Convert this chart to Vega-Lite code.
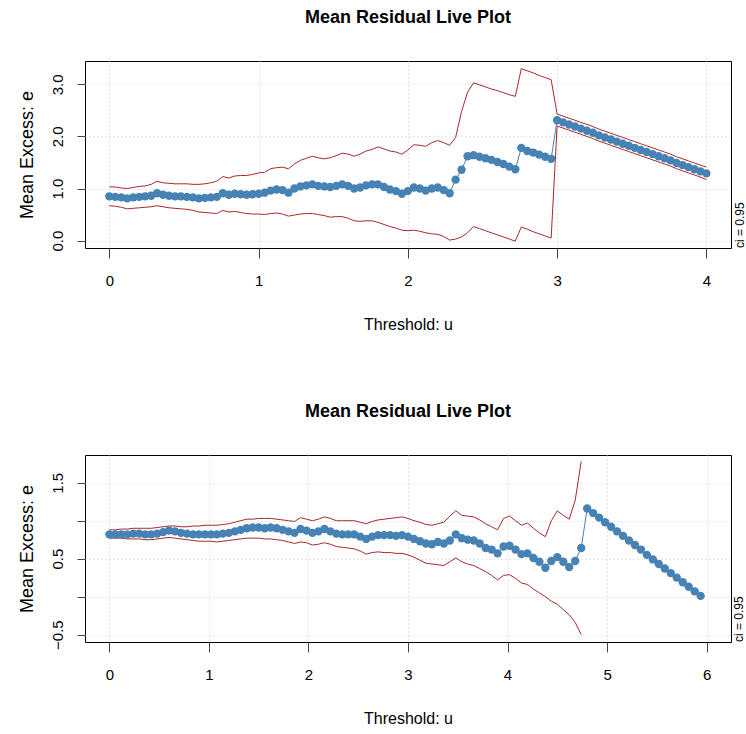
{
  "$schema": "https://vega.github.io/schema/vega-lite/v6.json",
  "padding": {"left": 17, "top": 8, "right": 2, "bottom": 2},
  "spacing": 69,
  "config": {
    "font": "Liberation Sans",
    "view": {"stroke": "black", "strokeWidth": 1},
    "title": {"fontSize": 18, "fontWeight": "bold", "color": "black", "offset": 34, "anchor": "middle", "font": "Liberation Sans"},
    "axis": {"labelColor": "black", "titleColor": "black", "titleFontWeight": "normal", "tickColor": "#444444", "domain": false, "gridColor": "#cfcfcf", "gridDash": [1, 3], "labelFlush": false, "labelOverlap": false, "labelFont": "Liberation Sans", "titleFont": "Liberation Sans"},
    "axisX": {"labelFontSize": 15, "labelPadding": 15, "tickSize": 10, "titleFontSize": 16, "titlePadding": 28},
    "axisY": {"labelFontSize": 15, "labelAngle": -90, "labelAlign": "center", "labelBaseline": "bottom", "labelPadding": 12, "tickSize": 8, "titleFontSize": 18, "titlePadding": 14}
  },
  "datasets": {
    "top": [
      {"u":0,"e":0.85,"lo":0.67,"hi":1.03},{"u":0.04,"e":0.84,"lo":0.66,"hi":1.03},{"u":0.08,"e":0.83,"lo":0.64,"hi":1.01},{"u":0.12,"e":0.81,"lo":0.61,"hi":1.0},{"u":0.16,"e":0.83,"lo":0.62,"hi":1.02},{"u":0.2,"e":0.84,"lo":0.63,"hi":1.04},{"u":0.24,"e":0.85,"lo":0.64,"hi":1.05},{"u":0.28,"e":0.86,"lo":0.65,"hi":1.08},{"u":0.32,"e":0.91,"lo":0.67,"hi":1.14},{"u":0.36,"e":0.88,"lo":0.65,"hi":1.11},
      {"u":0.4,"e":0.86,"lo":0.63,"hi":1.1},{"u":0.44,"e":0.85,"lo":0.62,"hi":1.09},{"u":0.48,"e":0.85,"lo":0.61,"hi":1.09},{"u":0.52,"e":0.84,"lo":0.6,"hi":1.09},{"u":0.56,"e":0.83,"lo":0.58,"hi":1.08},{"u":0.6,"e":0.81,"lo":0.55,"hi":1.08},{"u":0.64,"e":0.82,"lo":0.54,"hi":1.09},{"u":0.68,"e":0.83,"lo":0.53,"hi":1.11},{"u":0.72,"e":0.84,"lo":0.52,"hi":1.14},{"u":0.76,"e":0.91,"lo":0.58,"hi":1.23},
      {"u":0.8,"e":0.88,"lo":0.55,"hi":1.2},{"u":0.84,"e":0.9,"lo":0.56,"hi":1.24},{"u":0.88,"e":0.89,"lo":0.54,"hi":1.25},{"u":0.92,"e":0.88,"lo":0.52,"hi":1.25},{"u":0.96,"e":0.89,"lo":0.51,"hi":1.27},{"u":1.0,"e":0.9,"lo":0.51,"hi":1.3},{"u":1.04,"e":0.92,"lo":0.5,"hi":1.31},{"u":1.08,"e":0.96,"lo":0.52,"hi":1.38},{"u":1.12,"e":0.98,"lo":0.53,"hi":1.4},{"u":1.16,"e":0.97,"lo":0.51,"hi":1.41},
      {"u":1.2,"e":0.92,"lo":0.47,"hi":1.38},{"u":1.24,"e":1.0,"lo":0.49,"hi":1.47},{"u":1.28,"e":1.04,"lo":0.51,"hi":1.54},{"u":1.32,"e":1.06,"lo":0.52,"hi":1.58},{"u":1.36,"e":1.08,"lo":0.52,"hi":1.62},{"u":1.4,"e":1.05,"lo":0.5,"hi":1.59},{"u":1.44,"e":1.04,"lo":0.48,"hi":1.57},{"u":1.48,"e":1.03,"lo":0.45,"hi":1.59},{"u":1.52,"e":1.05,"lo":0.46,"hi":1.63},{"u":1.56,"e":1.08,"lo":0.46,"hi":1.68},
      {"u":1.6,"e":1.05,"lo":0.43,"hi":1.66},{"u":1.64,"e":1.0,"lo":0.38,"hi":1.62},{"u":1.68,"e":1.02,"lo":0.37,"hi":1.66},{"u":1.72,"e":1.06,"lo":0.38,"hi":1.72},{"u":1.76,"e":1.08,"lo":0.38,"hi":1.75},{"u":1.8,"e":1.08,"lo":0.35,"hi":1.8},{"u":1.84,"e":1.03,"lo":0.31,"hi":1.76},{"u":1.88,"e":0.98,"lo":0.27,"hi":1.72},{"u":1.92,"e":0.95,"lo":0.24,"hi":1.7},{"u":1.96,"e":0.9,"lo":0.2,"hi":1.66},
      {"u":2.0,"e":0.95,"lo":0.19,"hi":1.74},{"u":2.04,"e":1.02,"lo":0.2,"hi":1.84},{"u":2.08,"e":1.0,"lo":0.18,"hi":1.83},{"u":2.12,"e":0.96,"lo":0.15,"hi":1.81},{"u":2.16,"e":1.0,"lo":0.13,"hi":1.88},{"u":2.2,"e":1.02,"lo":0.12,"hi":1.92},{"u":2.24,"e":0.97,"lo":0.08,"hi":1.88},{"u":2.28,"e":0.91,"lo":0.01,"hi":1.83},{"u":2.32,"e":1.17,"lo":0.03,"hi":1.98},{"u":2.36,"e":1.36,"lo":0.07,"hi":2.48},
      {"u":2.4,"e":1.62,"lo":0.15,"hi":2.85},{"u":2.44,"e":1.64,"lo":0.27,"hi":3.03},{"u":2.48,"e":1.61,"lo":0.23,"hi":2.99},{"u":2.52,"e":1.58,"lo":0.19,"hi":2.95},{"u":2.56,"e":1.55,"lo":0.15,"hi":2.91},{"u":2.6,"e":1.51,"lo":0.11,"hi":2.88},{"u":2.64,"e":1.47,"lo":0.07,"hi":2.84},{"u":2.68,"e":1.42,"lo":0.03,"hi":2.8},{"u":2.72,"e":1.37,"lo":-0.01,"hi":2.77},{"u":2.76,"e":1.78,"lo":0.26,"hi":3.3},
      {"u":2.8,"e":1.72,"lo":0.22,"hi":3.26},{"u":2.84,"e":1.69,"lo":0.17,"hi":3.22},{"u":2.88,"e":1.65,"lo":0.13,"hi":3.17},{"u":2.92,"e":1.61,"lo":0.09,"hi":3.13},{"u":2.96,"e":1.57,"lo":0.05,"hi":3.09},{"u":3.0,"e":2.31,"lo":2.2,"hi":2.43},{"u":3.04,"e":2.27,"lo":2.16,"hi":2.39},{"u":3.08,"e":2.23,"lo":2.12,"hi":2.35},{"u":3.12,"e":2.19,"lo":2.08,"hi":2.31},{"u":3.16,"e":2.15,"lo":2.04,"hi":2.27},
      {"u":3.2,"e":2.11,"lo":2.0,"hi":2.23},{"u":3.24,"e":2.07,"lo":1.96,"hi":2.19},{"u":3.28,"e":2.02,"lo":1.91,"hi":2.14},{"u":3.32,"e":1.98,"lo":1.87,"hi":2.1},{"u":3.36,"e":1.94,"lo":1.83,"hi":2.06},{"u":3.4,"e":1.9,"lo":1.79,"hi":2.02},{"u":3.44,"e":1.86,"lo":1.75,"hi":1.98},{"u":3.48,"e":1.82,"lo":1.71,"hi":1.94},{"u":3.52,"e":1.78,"lo":1.67,"hi":1.9},{"u":3.56,"e":1.74,"lo":1.63,"hi":1.86},
      {"u":3.6,"e":1.7,"lo":1.59,"hi":1.82},{"u":3.64,"e":1.66,"lo":1.55,"hi":1.78},{"u":3.68,"e":1.62,"lo":1.51,"hi":1.74},{"u":3.72,"e":1.58,"lo":1.47,"hi":1.7},{"u":3.76,"e":1.54,"lo":1.43,"hi":1.66},{"u":3.8,"e":1.49,"lo":1.38,"hi":1.61},{"u":3.84,"e":1.45,"lo":1.34,"hi":1.57},{"u":3.88,"e":1.41,"lo":1.3,"hi":1.53},{"u":3.92,"e":1.37,"lo":1.26,"hi":1.49},{"u":3.96,"e":1.33,"lo":1.22,"hi":1.45},
      {"u":4.0,"e":1.29,"lo":1.17,"hi":1.41}
    ],
    "bottom": [
      {"u":0,"e":0.82,"lo":0.77,"hi":0.88},{"u":0.06,"e":0.82,"lo":0.77,"hi":0.88},{"u":0.12,"e":0.82,"lo":0.77,"hi":0.89},{"u":0.18,"e":0.82,"lo":0.76,"hi":0.89},{"u":0.24,"e":0.83,"lo":0.76,"hi":0.9},{"u":0.3,"e":0.83,"lo":0.76,"hi":0.9},{"u":0.36,"e":0.82,"lo":0.75,"hi":0.9},{"u":0.42,"e":0.82,"lo":0.75,"hi":0.9},{"u":0.48,"e":0.83,"lo":0.76,"hi":0.91},{"u":0.54,"e":0.85,"lo":0.77,"hi":0.92},
      {"u":0.6,"e":0.87,"lo":0.78,"hi":0.93},{"u":0.66,"e":0.86,"lo":0.77,"hi":0.93},{"u":0.72,"e":0.84,"lo":0.76,"hi":0.92},{"u":0.78,"e":0.83,"lo":0.75,"hi":0.92},{"u":0.84,"e":0.82,"lo":0.74,"hi":0.93},{"u":0.9,"e":0.82,"lo":0.73,"hi":0.93},{"u":0.96,"e":0.82,"lo":0.73,"hi":0.94},{"u":1.02,"e":0.82,"lo":0.73,"hi":0.94},{"u":1.08,"e":0.82,"lo":0.72,"hi":0.94},{"u":1.14,"e":0.83,"lo":0.73,"hi":0.95},
      {"u":1.2,"e":0.84,"lo":0.74,"hi":0.96},{"u":1.26,"e":0.86,"lo":0.75,"hi":0.98},{"u":1.32,"e":0.88,"lo":0.76,"hi":1.0},{"u":1.38,"e":0.9,"lo":0.77,"hi":1.02},{"u":1.44,"e":0.91,"lo":0.77,"hi":1.02},{"u":1.5,"e":0.91,"lo":0.77,"hi":1.03},{"u":1.56,"e":0.9,"lo":0.76,"hi":1.03},{"u":1.62,"e":0.91,"lo":0.76,"hi":1.03},{"u":1.68,"e":0.9,"lo":0.75,"hi":1.02},{"u":1.74,"e":0.88,"lo":0.74,"hi":1.01},
      {"u":1.8,"e":0.86,"lo":0.72,"hi":1.0},{"u":1.86,"e":0.84,"lo":0.7,"hi":0.99},{"u":1.92,"e":0.89,"lo":0.72,"hi":1.04},{"u":1.98,"e":0.87,"lo":0.71,"hi":1.02},{"u":2.04,"e":0.84,"lo":0.68,"hi":1.0},{"u":2.1,"e":0.86,"lo":0.69,"hi":1.02},{"u":2.16,"e":0.89,"lo":0.71,"hi":1.05},{"u":2.22,"e":0.86,"lo":0.69,"hi":1.03},{"u":2.28,"e":0.83,"lo":0.66,"hi":1.0},{"u":2.34,"e":0.82,"lo":0.65,"hi":1.0},
      {"u":2.4,"e":0.82,"lo":0.64,"hi":1.0},{"u":2.46,"e":0.82,"lo":0.63,"hi":1.0},{"u":2.52,"e":0.79,"lo":0.6,"hi":0.98},{"u":2.58,"e":0.76,"lo":0.56,"hi":0.96},{"u":2.64,"e":0.79,"lo":0.58,"hi":0.99},{"u":2.7,"e":0.81,"lo":0.59,"hi":1.01},{"u":2.76,"e":0.81,"lo":0.58,"hi":1.02},{"u":2.82,"e":0.81,"lo":0.58,"hi":1.03},{"u":2.88,"e":0.8,"lo":0.57,"hi":1.04},{"u":2.94,"e":0.81,"lo":0.57,"hi":1.05},
      {"u":3.0,"e":0.79,"lo":0.55,"hi":1.03},{"u":3.06,"e":0.76,"lo":0.52,"hi":1.0},{"u":3.12,"e":0.73,"lo":0.48,"hi":0.98},{"u":3.18,"e":0.7,"lo":0.44,"hi":0.95},{"u":3.24,"e":0.69,"lo":0.43,"hi":0.94},{"u":3.3,"e":0.72,"lo":0.42,"hi":0.96},{"u":3.36,"e":0.7,"lo":0.41,"hi":0.98},{"u":3.42,"e":0.74,"lo":0.46,"hi":1.06},{"u":3.48,"e":0.82,"lo":0.51,"hi":1.13},{"u":3.54,"e":0.77,"lo":0.46,"hi":1.07},
      {"u":3.6,"e":0.75,"lo":0.43,"hi":1.06},{"u":3.66,"e":0.74,"lo":0.41,"hi":1.05},{"u":3.72,"e":0.7,"lo":0.37,"hi":1.01},{"u":3.78,"e":0.64,"lo":0.33,"hi":0.96},{"u":3.84,"e":0.62,"lo":0.28,"hi":0.92},{"u":3.9,"e":0.57,"lo":0.22,"hi":0.88},{"u":3.96,"e":0.66,"lo":0.28,"hi":1.03},{"u":4.02,"e":0.67,"lo":0.29,"hi":1.06},{"u":4.08,"e":0.62,"lo":0.24,"hi":1.0},{"u":4.14,"e":0.56,"lo":0.18,"hi":0.94},
      {"u":4.2,"e":0.57,"lo":0.16,"hi":0.97},{"u":4.26,"e":0.51,"lo":0.1,"hi":0.9},{"u":4.32,"e":0.46,"lo":0.05,"hi":0.84},{"u":4.38,"e":0.38,"lo":0.0,"hi":0.79},{"u":4.44,"e":0.47,"lo":-0.06,"hi":1.0},{"u":4.5,"e":0.52,"lo":-0.1,"hi":1.13},{"u":4.56,"e":0.46,"lo":-0.17,"hi":1.07},{"u":4.62,"e":0.39,"lo":-0.24,"hi":1.02},{"u":4.68,"e":0.47,"lo":-0.34,"hi":1.27},{"u":4.74,"e":0.64,"lo":-0.5,"hi":1.78},
      {"u":4.8,"e":1.16,"lo":null,"hi":null},{"u":4.86,"e":1.1,"lo":null,"hi":null},{"u":4.92,"e":1.04,"lo":null,"hi":null},{"u":4.98,"e":0.98,"lo":null,"hi":null},{"u":5.04,"e":0.92,"lo":null,"hi":null},{"u":5.1,"e":0.86,"lo":null,"hi":null},{"u":5.16,"e":0.8,"lo":null,"hi":null},{"u":5.22,"e":0.74,"lo":null,"hi":null},{"u":5.28,"e":0.68,"lo":null,"hi":null},{"u":5.34,"e":0.62,"lo":null,"hi":null},
      {"u":5.4,"e":0.55,"lo":null,"hi":null},{"u":5.46,"e":0.49,"lo":null,"hi":null},{"u":5.52,"e":0.43,"lo":null,"hi":null},{"u":5.58,"e":0.37,"lo":null,"hi":null},{"u":5.64,"e":0.31,"lo":null,"hi":null},{"u":5.7,"e":0.25,"lo":null,"hi":null},{"u":5.76,"e":0.19,"lo":null,"hi":null},{"u":5.82,"e":0.13,"lo":null,"hi":null},{"u":5.88,"e":0.07,"lo":null,"hi":null},{"u":5.94,"e":0.01,"lo":null,"hi":null}
    ]
  },
  "vconcat": [
    {
      "title": "Mean Residual Live Plot",
      "width": 646,
      "height": 187,
      "data": {"name": "top"},
      "layer": [
        {
          "mark": {"type": "line", "color": "#A52A2A", "strokeWidth": 1},
          "encoding": {
            "x": {"field": "u", "type": "quantitative", "scale": {"domain": [-0.163, 4.165], "nice": false, "zero": false}, "axis": {"values": [0, 1, 2, 3, 4], "format": "d", "title": "Threshold: u"}},
            "y": {"field": "hi", "type": "quantitative", "scale": {"domain": [-0.142, 3.448], "nice": false, "zero": false}, "axis": {"values": [0, 0.5, 1, 1.5, 2, 2.5, 3], "labelExpr": "datum.value % 1 === 0 ? format(datum.value, '.1f') : ''", "title": "Mean Excess: e"}}
          }
        },
        {
          "mark": {"type": "line", "color": "#A52A2A", "strokeWidth": 1},
          "encoding": {
            "x": {"field": "u", "type": "quantitative", "scale": {"domain": [-0.163, 4.165], "nice": false, "zero": false}, "axis": {"values": [0, 1, 2, 3, 4], "format": "d", "title": "Threshold: u"}},
            "y": {"field": "lo", "type": "quantitative", "scale": {"domain": [-0.142, 3.448], "nice": false, "zero": false}, "axis": {"values": [0, 0.5, 1, 1.5, 2, 2.5, 3], "labelExpr": "datum.value % 1 === 0 ? format(datum.value, '.1f') : ''", "title": "Mean Excess: e"}}
          }
        },
        {
          "mark": {"type": "line", "color": "#4682B4", "strokeWidth": 1},
          "encoding": {
            "x": {"field": "u", "type": "quantitative", "scale": {"domain": [-0.163, 4.165], "nice": false, "zero": false}, "axis": {"values": [0, 1, 2, 3, 4], "format": "d", "title": "Threshold: u"}},
            "y": {"field": "e", "type": "quantitative", "scale": {"domain": [-0.142, 3.448], "nice": false, "zero": false}, "axis": {"values": [0, 0.5, 1, 1.5, 2, 2.5, 3], "labelExpr": "datum.value % 1 === 0 ? format(datum.value, '.1f') : ''", "title": "Mean Excess: e"}}
          }
        },
        {
          "mark": {"type": "point", "filled": true, "color": "#4682B4", "opacity": 1, "size": 70},
          "encoding": {
            "x": {"field": "u", "type": "quantitative", "scale": {"domain": [-0.163, 4.165], "nice": false, "zero": false}, "axis": {"values": [0, 1, 2, 3, 4], "format": "d", "title": "Threshold: u"}},
            "y": {"field": "e", "type": "quantitative", "scale": {"domain": [-0.142, 3.448], "nice": false, "zero": false}, "axis": {"values": [0, 0.5, 1, 1.5, 2, 2.5, 3], "labelExpr": "datum.value % 1 === 0 ? format(datum.value, '.1f') : ''", "title": "Mean Excess: e"}}
          }
        },
        {
          "data": {"values": [{"label": "ci = 0.95"}]},
          "mark": {"type": "text", "angle": 270, "align": "left", "baseline": "middle", "fontSize": 12, "color": "black"},
          "encoding": {
            "x": {"datum": 4.225, "type": "quantitative"},
            "y": {"datum": -0.142, "type": "quantitative"},
            "text": {"field": "label"}
          }
        }
      ]
    },
    {
      "title": "Mean Residual Live Plot",
      "width": 646,
      "height": 187,
      "data": {"name": "bottom"},
      "layer": [
        {
          "mark": {"type": "line", "color": "#A52A2A", "strokeWidth": 1},
          "encoding": {
            "x": {"field": "u", "type": "quantitative", "scale": {"domain": [-0.245, 6.245], "nice": false, "zero": false}, "axis": {"values": [0, 1, 2, 3, 4, 5, 6], "format": "d", "title": "Threshold: u"}},
            "y": {"field": "hi", "type": "quantitative", "scale": {"domain": [-0.597, 1.865], "nice": false, "zero": false}, "axis": {"values": [-0.5, 0, 0.5, 1, 1.5], "labelExpr": "indexof([-0.5, 0.5, 1.5], datum.value) >= 0 ? format(datum.value, '.1f') : ''", "title": "Mean Excess: e"}}
          }
        },
        {
          "mark": {"type": "line", "color": "#A52A2A", "strokeWidth": 1},
          "encoding": {
            "x": {"field": "u", "type": "quantitative", "scale": {"domain": [-0.245, 6.245], "nice": false, "zero": false}, "axis": {"values": [0, 1, 2, 3, 4, 5, 6], "format": "d", "title": "Threshold: u"}},
            "y": {"field": "lo", "type": "quantitative", "scale": {"domain": [-0.597, 1.865], "nice": false, "zero": false}, "axis": {"values": [-0.5, 0, 0.5, 1, 1.5], "labelExpr": "indexof([-0.5, 0.5, 1.5], datum.value) >= 0 ? format(datum.value, '.1f') : ''", "title": "Mean Excess: e"}}
          }
        },
        {
          "mark": {"type": "line", "color": "#4682B4", "strokeWidth": 1},
          "encoding": {
            "x": {"field": "u", "type": "quantitative", "scale": {"domain": [-0.245, 6.245], "nice": false, "zero": false}, "axis": {"values": [0, 1, 2, 3, 4, 5, 6], "format": "d", "title": "Threshold: u"}},
            "y": {"field": "e", "type": "quantitative", "scale": {"domain": [-0.597, 1.865], "nice": false, "zero": false}, "axis": {"values": [-0.5, 0, 0.5, 1, 1.5], "labelExpr": "indexof([-0.5, 0.5, 1.5], datum.value) >= 0 ? format(datum.value, '.1f') : ''", "title": "Mean Excess: e"}}
          }
        },
        {
          "mark": {"type": "point", "filled": true, "color": "#4682B4", "opacity": 1, "size": 70},
          "encoding": {
            "x": {"field": "u", "type": "quantitative", "scale": {"domain": [-0.245, 6.245], "nice": false, "zero": false}, "axis": {"values": [0, 1, 2, 3, 4, 5, 6], "format": "d", "title": "Threshold: u"}},
            "y": {"field": "e", "type": "quantitative", "scale": {"domain": [-0.597, 1.865], "nice": false, "zero": false}, "axis": {"values": [-0.5, 0, 0.5, 1, 1.5], "labelExpr": "indexof([-0.5, 0.5, 1.5], datum.value) >= 0 ? format(datum.value, '.1f') : ''", "title": "Mean Excess: e"}}
          }
        },
        {
          "data": {"values": [{"label": "ci = 0.95"}]},
          "mark": {"type": "text", "angle": 270, "align": "left", "baseline": "middle", "fontSize": 12, "color": "black"},
          "encoding": {
            "x": {"datum": 6.33, "type": "quantitative"},
            "y": {"datum": -0.597, "type": "quantitative"},
            "text": {"field": "label"}
          }
        }
      ]
    }
  ]
}
